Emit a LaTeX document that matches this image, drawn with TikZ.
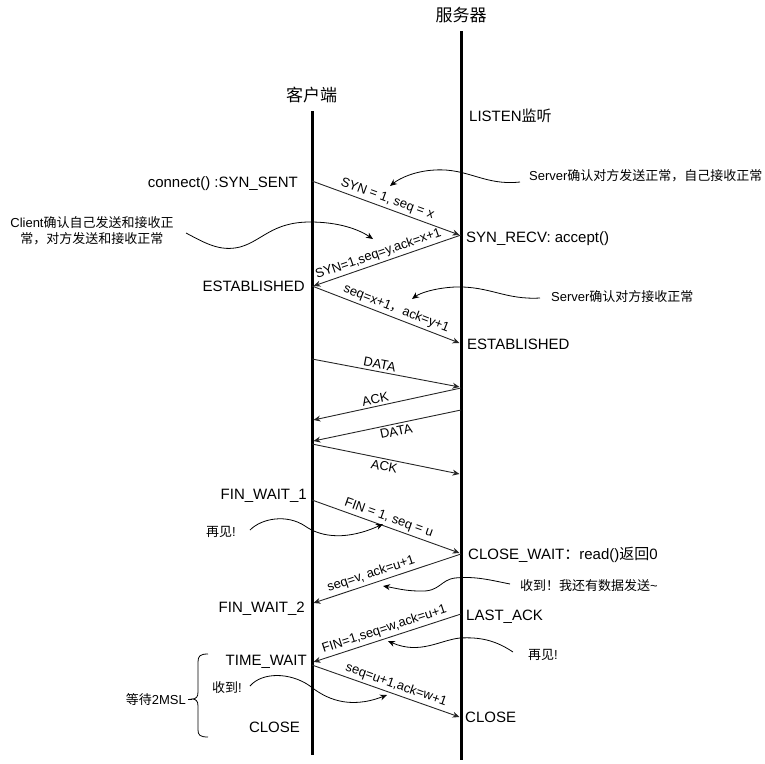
\documentclass[tikz,border=0pt]{standalone}
\usepackage{fontspec}
\setmainfont{Liberation Sans}
\newfontfamily\cjk{Noto Sans CJK SC}
\usetikzlibrary{arrows.meta}
\begin{document}
\begin{tikzpicture}[x=1pt,y=-1pt,
  lifeline/.style={line width=3pt},
  msg/.style={draw=black!85, line width=0.9pt, -{Stealth[length=7pt,width=6pt]}},
  note/.style={draw=black, line width=0.8pt, -{Stealth[length=7pt,width=6pt]}},
  state/.style={font=\fontsize{15}{18}\selectfont, inner sep=0pt},
  lbl/.style={font=\fontsize{13}{16}\selectfont, sloped, inner sep=2.5pt},
  ann/.style={font=\fontsize{13}{16}\selectfont, inner sep=0pt},
  head/.style={font=\cjk\fontsize{17}{20}\selectfont, inner sep=0pt}
]
\useasboundingbox (0,0) rectangle (765,763);
% headings
\node[head] (server) at (461,15) {服务器};
\node[head] (client) at (311.5,95) {客户端};
% lifelines
\coordinate (ctop) at (312,111); \coordinate (cbot) at (312,755);
\coordinate (stop) at (461,31);  \coordinate (sbot) at (461,760);
\draw[lifeline] (ctop) -- (cbot);
\draw[lifeline] (stop) -- (sbot);
% message endpoints
\coordinate (c1) at (312,181);   \coordinate (s1) at (459.5,235);
\coordinate (s1b) at (461,235);  \coordinate (c2) at (313.5,286);
\coordinate (c2b) at (312,286);  \coordinate (s2) at (459.5,343);
\coordinate (c3) at (312,359);   \coordinate (s3) at (459.5,387);
\coordinate (s3b) at (461,388);  \coordinate (c4) at (313.5,420);
\coordinate (s4) at (461,410);   \coordinate (c5) at (313.5,441);
\coordinate (c6) at (312,444);   \coordinate (s6) at (459.5,474);
\coordinate (c7) at (312,500);   \coordinate (s7) at (459.5,553);
\coordinate (s7b) at (461,554);  \coordinate (c8) at (313.5,603);
\coordinate (s8) at (461,614);   \coordinate (c9) at (313.5,662);
\coordinate (c10) at (312,665);  \coordinate (s10) at (459.5,717);
% messages
\draw[msg] (c1) -- node[lbl, above, pos=0.49] {SYN = 1, seq = x} (s1);
\draw[msg] (s1b) -- node[lbl, above, pos=0.54] {SYN=1,seq=y,ack=x+1} (c2);
\draw[msg] (c2b) -- node[lbl, above, pos=0.55] {seq=x+1{\cjk ，}ack=y+1} (s2);
\draw[msg] (c3) -- node[lbl, above, pos=0.45] {DATA} (s3);
\draw[msg] (s3b) -- node[lbl, above, pos=0.57] {ACK} (c4);
\draw[msg] (s4) -- node[lbl, below, pos=0.45] {DATA} (c5);
\draw[msg] (c6) -- node[lbl, below, pos=0.5] {ACK} (s6);
\draw[msg] (c7) -- node[lbl, above, pos=0.5] {FIN = 1, seq = u} (s7);
\draw[msg] (s7b) -- node[lbl, above, pos=0.59] {seq=v, ack=u+1} (c8);
\draw[msg] (s8) -- node[lbl, above, pos=0.5] {FIN=1,seq=w,ack=u+1} (c9);
\draw[msg] (c10) -- node[lbl, above, pos=0.55] {seq=u+1,ack=w+1} (s10);
% states
\node[state, anchor=base east] (synsent) at (298,187.5) {connect() :SYN\_SENT};
\node[state, anchor=base west] (synrecv) at (466,242.5) {SYN\_RECV: accept()};
\node[state, anchor=base east] (estc) at (305,291.5) {ESTABLISHED};
\node[state, anchor=base west] (ests) at (467,349.5) {ESTABLISHED};
\node[state, anchor=base west] (listen) at (469,121.5) {LISTEN{\cjk 监听}};
\node[state, anchor=base east] (fw1) at (307,499.5) {FIN\_WAIT\_1};
\node[state, anchor=base west] (cw) at (468,559.5) {CLOSE\_WAIT{\cjk ：}read(){\cjk 返回}0};
\node[state, anchor=base east] (fw2) at (305,612.5) {FIN\_WAIT\_2};
\node[state, anchor=base west] (la) at (466,620.5) {LAST\_ACK};
\node[state, anchor=base east] (tw) at (307,665.5) {TIME\_WAIT};
\node[state, anchor=base] (closec) at (274.5,732.5) {CLOSE};
\node[state, anchor=base west] (closes) at (465,722.5) {CLOSE};
% annotations
\node[ann, anchor=base west] (n1) at (529,180) {Server{\cjk 确认对方发送正常，自己接收正常}};
\node[ann, align=center] (n2) at (92,231) {Client{\cjk 确认自己发送和接收正}\\{\cjk 常，对方发送和接收正常}};
\node[ann, anchor=base west] (n3) at (551,301) {Server{\cjk 确认对方接收正常}};
\node[ann, anchor=base west] (n4) at (206,536) {{\cjk 再见}!};
\node[ann, anchor=base west] (n5) at (520,590) {{\cjk 收到！我还有数据发送}\textasciitilde};
\node[ann, anchor=base west] (n6) at (528,659) {{\cjk 再见}!};
\node[ann, anchor=base west] (n7) at (212,692) {{\cjk 收到}!};
\node[ann, anchor=base east] (n8) at (186,704) {{\cjk 等待}2MSL};
% annotation curves
\coordinate (a1s) at (520,182); \coordinate (a1e) at (390,186);
\draw[note] (a1s) .. controls (485,186) and (468,168) .. (435,170)
  .. controls (415,171) and (400,178) .. (a1e);
\coordinate (a2s) at (186,233); \coordinate (a2e) at (373,239);
\draw[note] (a2s) .. controls (205,243) and (220,252) .. (240,247)
  .. controls (262,241) and (272,222) .. (310,222)
  .. controls (338,222) and (358,229) .. (a2e);
\coordinate (a3s) at (540,298); \coordinate (a3e) at (412,299);
\draw[note] (a3s) .. controls (505,300) and (490,286) .. (455,287)
  .. controls (435,288) and (420,293) .. (a3e);
\coordinate (a4s) at (250,530); \coordinate (a4e) at (383,524);
\draw[note] (a4s) .. controls (262,518) and (287,514) .. (305,526)
  .. controls (322,538) and (348,540) .. (a4e);
\coordinate (a5s) at (510,584); \coordinate (a5e) at (383,586);
\draw[note] (a5s) .. controls (490,580) and (475,576) .. (455,578)
  .. controls (440,580) and (440,592) .. (420,591)
  .. controls (405,591) and (395,588) .. (a5e);
\coordinate (a6s) at (513,652); \coordinate (a6e) at (388,641);
\draw[note] (a6s) .. controls (495,640) and (480,637) .. (460,638)
  .. controls (440,640) and (420,655) .. (a6e);
\coordinate (a7s) at (250,686); \coordinate (a7e) at (387,695);
\draw[note] (a7s) .. controls (262,672) and (290,672) .. (310,686)
  .. controls (325,698) and (348,710) .. (a7e);
% brace
\draw[line width=0.8pt] (208,654) .. controls (200,654) and (198,656) .. (198,662)
  -- (198,692) .. controls (198,697) and (196,699) .. (192,699)
  .. controls (196,699) and (198,701) .. (198,706)
  -- (198,730) .. controls (198,735) and (200,737) .. (208,737);
\draw[line width=0.8pt] (188,699) -- (192,699);
\end{tikzpicture}
\end{document}
